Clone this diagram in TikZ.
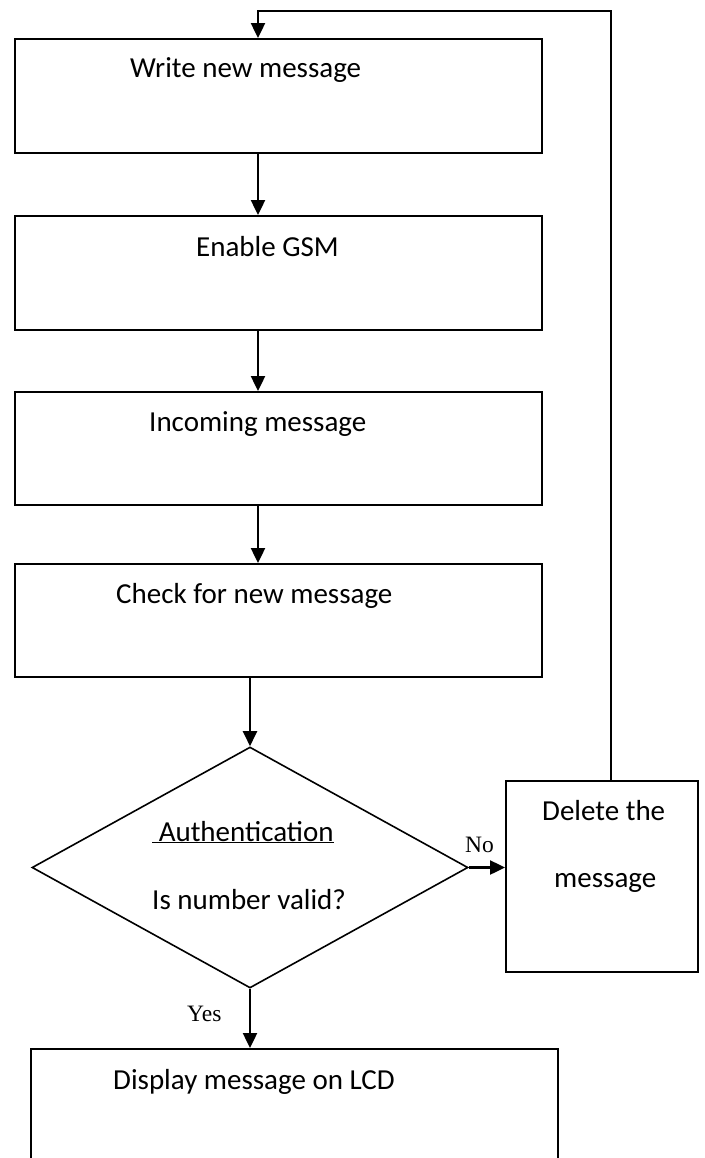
\documentclass[tikz,border=0pt]{standalone}
\usepackage{fontspec}
\setmainfont{Carlito}
\newfontfamily\tnr{Liberation Serif}
\usetikzlibrary{arrows.meta,shapes.geometric}
\begin{document}
\begin{tikzpicture}[x=1pt,y=-1pt,
  box/.style={draw, line width=1.9pt, rectangle, inner sep=0pt},
  dia/.style={draw, line width=1.6pt, diamond, inner sep=0pt},
  txt/.style={anchor=base west, inner sep=0pt, font=\fontsize{29}{34}\selectfont},
  lbl/.style={anchor=base west, inner sep=0pt, font=\tnr\fontsize{23.5}{27}\selectfont},
  arr/.style={line width=2.2pt, -{Triangle[length=15pt,width=14pt]}}]
\clip (0,0) rectangle (704,1158);
\useasboundingbox (0,0) rectangle (704,1158);
\fill[white] (0,0) rectangle (704,1158);

% boxes
\node[box, minimum width=527pt, minimum height=114pt] (b1) at (278.5,96) {};
\node[box, minimum width=527pt, minimum height=114pt] (b2) at (278.5,273) {};
\node[box, minimum width=527pt, minimum height=113pt] (b3) at (278.5,448.5) {};
\node[box, minimum width=527pt, minimum height=113pt] (b4) at (278.5,620.5) {};
\node[dia, minimum width=436pt, minimum height=241pt] (d) at (250,867.5) {};
\node[box, minimum width=192pt, minimum height=191pt] (del) at (602,876.5) {};
\node[box, minimum width=527pt, minimum height=201pt] (b5) at (294.5,1149.5) {};

% texts
\node[txt] (t1) at (130,78) {Write new message};
\node[txt] (t2) at (196,256) {Enable GSM};
\node[txt] (t3) at (149,431) {Incoming message};
\node[txt] (t4) at (116,603) {Check for new message};
\node[txt] (t5) at (152,841) {\underline{~Authentication}};
\node[txt] (t6) at (152,909) {Is number valid?};
\node[txt] (t7) at (542,820) {Delete the};
\node[txt] (t8) at (554,887) {message};
\node[txt] (t9) at (113,1089) {Display message on LCD};
\node[lbl] (no) at (465,852) {No};
\node[lbl] (yes) at (187,1021) {Yes};

% connectors
\coordinate (ax) at (258,0);
\coordinate (lp) at (611,10.7);
\coordinate (lq) at (258,10.7);
\draw[arr] (b1.south -| ax) -- (b2.north -| ax);
\draw[arr] (b2.south -| ax) -- (b3.north -| ax);
\draw[arr] (b3.south -| ax) -- (b4.north -| ax);
\draw[arr] (b4.south -| d.north) -- (d.north);
\draw[arr] (d.east) -- (d.east -| del.west);
\draw[arr] (d.south) -- (d.south |- b5.north);
\draw[arr] (del.north -| lp) -- (lp) -- (lq) -- (b1.north -| lq);
\end{tikzpicture}
\end{document}
